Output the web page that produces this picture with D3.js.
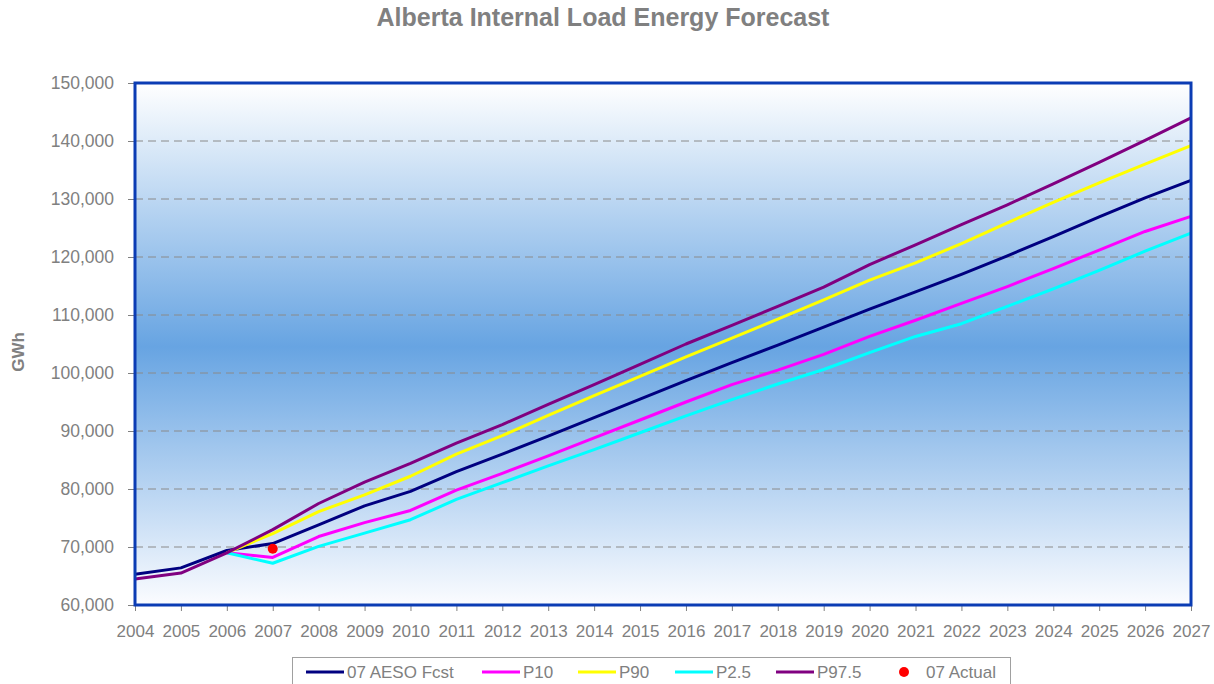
<!DOCTYPE html>
<html>
<head>
<meta charset="utf-8">
<script src="https://cdn.jsdelivr.net/npm/d3@7/dist/d3.min.js"></script>
<style>
  html, body { margin: 0; padding: 0; background: #ffffff; }
  svg { display: block; font-family: "Liberation Sans", Arial, sans-serif; }
</style>
</head>
<body>
<svg id="chart" width="1214" height="684"></svg>
<script>
// Forecast years
const years = d3.range(2004, 2028);

// Annual internal load energy (GWh)
const aesoFcst = [65300, 66400, 69400, 70600, 73800, 77100, 79600, 83000, 86000, 89100, 92300, 95500, 98700, 101800, 104800, 107900, 111000, 114000, 117000, 120200, 123500, 126900, 130200, 133200];
const p10 = [null, null, 69000, 68200, 71800, 74200, 76300, 79800, 82700, 85700, 88800, 91900, 95000, 98000, 100500, 103200, 106300, 109100, 112000, 114900, 118000, 121200, 124400, 127000];
const p90 = [null, null, 69000, 72300, 76100, 79000, 82200, 86000, 89200, 92700, 96100, 99400, 102800, 106000, 109300, 112600, 116000, 119000, 122300, 125900, 129400, 132800, 136000, 139200];
const p2_5 = [null, null, 69000, 67200, 70100, 72400, 74700, 78200, 81100, 84000, 86800, 89700, 92600, 95400, 98100, 100600, 103500, 106300, 108500, 111500, 114500, 117700, 121000, 124100];
const p97_5 = [64500, 65500, 69000, 73000, 77500, 81200, 84400, 87900, 91100, 94600, 98000, 101500, 105000, 108200, 111500, 114800, 118700, 122100, 125600, 129000, 132600, 136300, 140100, 144000];
const actualYears = [2007];
const actualValues = [69700];

const yTicks = d3.range(60000, 150001, 10000);

const seriesList = [
  { name: "07 AESO Fcst", values: aesoFcst, color: "#000080" },
  { name: "P10", values: p10, color: "#ff00ff" },
  { name: "P90", values: p90, color: "#ffff00" },
  { name: "P2.5", values: p2_5, color: "#00ffff" },
  { name: "P97.5", values: p97_5, color: "#800080" }
];

const svg = d3.select("#chart");
const plot = { left: 135, top: 83, right: 1191, bottom: 605 };

const x = d3.scaleLinear().domain([2004, 2027]).range([plot.left, plot.right]);
const y = d3.scaleLinear().domain([60000, 150000]).range([plot.bottom, plot.top]);

// Background gradient of the plot area
const defs = svg.append("defs");
const grad = defs.append("linearGradient")
  .attr("id", "plotBg").attr("x1", 0).attr("y1", 0).attr("x2", 0).attr("y2", 1);
grad.append("stop").attr("offset", "0%").attr("stop-color", "#ffffff");
grad.append("stop").attr("offset", "50.5%").attr("stop-color", "#67a4e2");
grad.append("stop").attr("offset", "100%").attr("stop-color", "#fbfcff");

svg.append("rect")
  .attr("x", plot.left).attr("y", plot.top)
  .attr("width", plot.right - plot.left).attr("height", plot.bottom - plot.top)
  .attr("fill", "url(#plotBg)");

// Dashed gridlines
svg.append("g")
  .selectAll("line")
  .data(yTicks.filter(v => v > 60000 && v < 150000))
  .join("line")
  .attr("x1", plot.left).attr("x2", plot.right)
  .attr("y1", d => y(d)).attr("y2", d => y(d))
  .attr("stroke", "#8a8a8a").attr("stroke-width", 1)
  .attr("stroke-dasharray", "8,5");

// Axes
const yAxis = d3.axisLeft(y)
  .tickValues(yTicks)
  .tickSize(7)
  .tickPadding(14)
  .tickFormat(d3.format(","));
const yG = svg.append("g").attr("transform", `translate(${plot.left},0)`).call(yAxis);
yG.select(".domain").remove();
yG.selectAll(".tick line").attr("stroke", "#808080");
yG.selectAll(".tick text").attr("fill", "#808080").style("font-size", "17.5px");

const xAxis = d3.axisBottom(x)
  .tickValues(years)
  .tickSize(6)
  .tickPadding(14)
  .tickFormat(d3.format("d"));
const xG = svg.append("g").attr("transform", `translate(0,${plot.bottom})`).call(xAxis);
xG.select(".domain").remove();
xG.selectAll(".tick line").attr("stroke", "#808080");
xG.selectAll(".tick text").attr("fill", "#808080").style("font-size", "17px");

// Series lines
const line = d3.line()
  .defined(d => d[1] != null)
  .x(d => x(d[0]))
  .y(d => y(d[1]));

svg.append("g")
  .selectAll("path")
  .data(seriesList)
  .join("path")
  .attr("d", s => line(years.map((yr, i) => [yr, s.values[i]])))
  .attr("fill", "none")
  .attr("stroke", s => s.color)
  .attr("stroke-width", 3)
  .attr("stroke-linejoin", "round");

// Actual value marker
svg.append("g")
  .selectAll("circle")
  .data(actualYears.map((yr, i) => [yr, actualValues[i]]))
  .join("circle")
  .attr("cx", d => x(d[0])).attr("cy", d => y(d[1]))
  .attr("r", 5)
  .attr("fill", "#ff0000");

// Plot area border
svg.append("rect")
  .attr("x", plot.left).attr("y", plot.top)
  .attr("width", plot.right - plot.left).attr("height", plot.bottom - plot.top)
  .attr("fill", "none")
  .attr("stroke", "#0b3cb4").attr("stroke-width", 3);

// Title
svg.append("text")
  .attr("x", 603).attr("y", 26)
  .attr("text-anchor", "middle")
  .attr("fill", "#808080")
  .style("font-size", "25px").style("font-weight", "bold")
  .text("Alberta Internal Load Energy Forecast");

// Y axis title
svg.append("text")
  .attr("transform", `translate(24,352) rotate(-90)`)
  .attr("text-anchor", "middle")
  .attr("fill", "#808080")
  .style("font-size", "17px").style("font-weight", "bold")
  .text("GWh");

// Legend
const legend = svg.append("g");
legend.append("rect")
  .attr("x", 292.5).attr("y", 657.5)
  .attr("width", 718).attr("height", 40)
  .attr("fill", "#ffffff")
  .attr("stroke", "#a0a0a0").attr("stroke-width", 1);

const legendX = [306, 482, 578, 675, 776];
const legendY = 672;
seriesList.forEach((s, i) => {
  legend.append("line")
    .attr("x1", legendX[i]).attr("x2", legendX[i] + 38)
    .attr("y1", legendY).attr("y2", legendY)
    .attr("stroke", s.color).attr("stroke-width", 3);
  legend.append("text")
    .attr("x", legendX[i] + 41).attr("y", legendY + 6)
    .attr("fill", "#808080")
    .style("font-size", "17px")
    .text(s.name);
});
legend.append("circle")
  .attr("cx", 904).attr("cy", legendY).attr("r", 5).attr("fill", "#ff0000");
legend.append("text")
  .attr("x", 926).attr("y", legendY + 6)
  .attr("fill", "#808080")
  .style("font-size", "17px")
  .text("07 Actual");
</script>
</body>
</html>
